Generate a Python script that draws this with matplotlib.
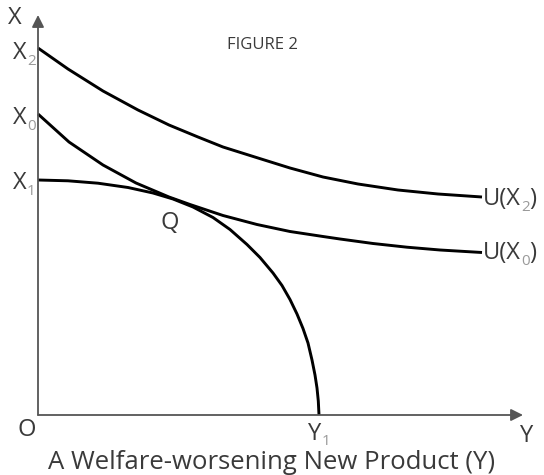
import matplotlib.pyplot as plt

# curves (origin at O)
u2_x = [0, 30, 65, 100, 131, 160, 185, 220, 252, 285, 320, 360, 400, 444]
u2_y = [367, 346, 324, 305, 290, 278, 268, 257, 247, 238, 231, 225, 221, 218]

u0_x = [0, 31, 65, 98, 131, 152, 185, 219, 252, 285, 302, 335, 369, 402, 444]
u0_y = [301, 273, 250, 232, 218, 210.5, 199.5, 190.5, 183.5, 178.5, 176, 171.5,
        167.8, 165, 162.5]

ppf_x = [0, 30, 60, 90, 115, 135, 155, 175, 192, 209, 222, 235, 244, 252,
         259, 265, 270, 274, 277, 279, 280.3, 281]
ppf_y = [235, 234.2, 231.8, 227.5, 222, 216, 208, 197.5, 185.5, 170.5, 157.5,
         142, 129.5, 115.5, 101, 86.5, 72, 55, 40, 27, 14, 0]

txt = '#3a3a3a'
sub = '#9a9a9a'
plt.rcParams['font.family'] = ['Open Sans', 'DejaVu Sans']

fig = plt.figure(figsize=(5.44, 4.75), dpi=100)
ax = fig.add_axes([0, 0, 1, 1])
ax.set_xlim(-38, 506)
ax.set_ylim(-60, 415)
ax.axis('off')

# axes with arrows
ax.annotate('', xy=(0, 400), xytext=(0, 0),
            arrowprops=dict(arrowstyle='-|>', color='#555555', lw=1.3,
                            mutation_scale=18, shrinkA=0, shrinkB=0))
ax.annotate('', xy=(485, 0), xytext=(0, 0),
            arrowprops=dict(arrowstyle='-|>', color='#555555', lw=1.3,
                            mutation_scale=18, shrinkA=0, shrinkB=0))

for xs, ys in [(u2_x, u2_y), (u0_x, u0_y), (ppf_x, ppf_y)]:
    ax.plot(xs, ys, color='black', lw=2.1, solid_capstyle='butt',
            solid_joinstyle='round')


def label(x, y, main, s, tail='', ha='center', drop=-3):
    t = ax.text(x, y, main, fontsize=17, color=txt, ha=ha, va='center')
    t2 = ax.annotate(s, xy=(1, 0), xycoords=t, xytext=(0, drop),
                     textcoords='offset points', fontsize=11, color=sub,
                     ha='left', va='bottom')
    if tail:
        ax.annotate(tail, xy=(1, 0), xycoords=t2, xytext=(0, -drop),
                    textcoords='offset points', fontsize=17, color=txt,
                    ha='left', va='bottom')


ax.text(-23, 397, 'X', fontsize=17, color=txt, ha='center', va='center')
label(-18, 362, 'X', '2')
label(-18, 297, 'X', '0')
label(-18, 232, 'X', '1')
label(445, 216, 'U(X', '2', ')', ha='left')
label(445, 162, 'U(X', '0', ')', ha='left')
label(277, -19, 'Y', '1', drop=-2)

ax.text(132, 192, 'Q', fontsize=17, color=txt, ha='center', va='center')
ax.text(-11, -15, 'O', fontsize=17, color=txt, ha='center', va='center')
ax.text(489, -21, 'Y', fontsize=17, color=txt, ha='center', va='center')
ax.text(224, 370, 'FIGURE 2', fontsize=12, color=txt, ha='center', va='center')
ax.text(234, -47.5, 'A Welfare-worsening New Product (Y)', fontsize=18.5,
        color=txt, ha='center', va='center')

fig.savefig('out.png', dpi=100)
